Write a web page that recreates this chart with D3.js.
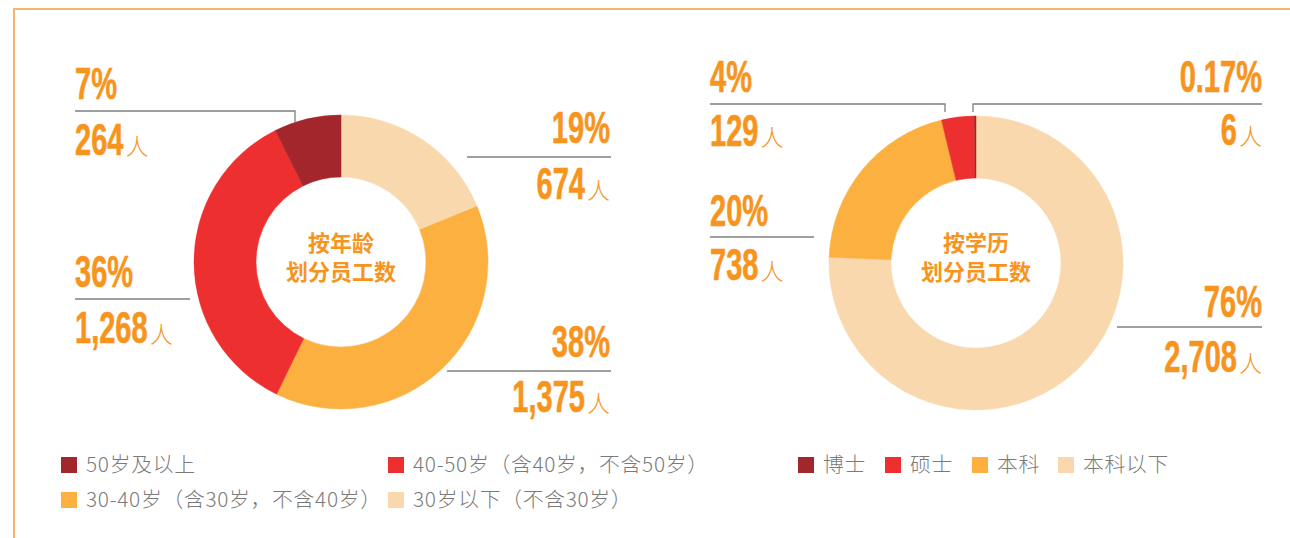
<!DOCTYPE html>
<html>
<head>
<meta charset="utf-8">
<script src="https://cdn.jsdelivr.net/npm/d3@7"></script>
<style>
  html, body { margin: 0; padding: 0; background: #fff; }
  svg { display: block; }
</style>
</head>
<body>
<svg id="chart" width="1290" height="538"></svg>
<script>
// ---- data ----
const ageCategories = ["50岁及以上", "40-50岁（含40岁，不含50岁）", "30-40岁（含30岁，不含40岁）", "30岁以下（不含30岁）"];
const ageValues = [264, 1268, 1375, 674];
const agePercents = ["7%", "36%", "38%", "19%"];
const eduCategories = ["博士", "硕士", "本科", "本科以下"];
const eduValues = [6, 129, 738, 2708];
const eduPercents = ["0.17%", "4%", "20%", "76%"];
const centerTitles = [["按年龄", "划分员工数"], ["按学历", "划分员工数"]];
const unit = "人";

// ---- styles / layout ----
const colors = ["#a2262b", "#ee2f2f", "#fbb040", "#f9d8ae"];
const orange = "#f7941d";
const lineColor = "#7f7f7f";
const numFont = "'Liberation Sans', Arial, sans-serif";
const cjkFont = "'Noto Sans CJK SC', 'Noto Sans', sans-serif";

const svg = d3.select("#chart");

// frame
svg.append("path")
  .attr("d", "M14,538 L14,9 L1290,9")
  .attr("fill", "none").attr("stroke", "#f8b46c").attr("stroke-width", 2);

const charts = [
  { cx: 341, cy: 262, values: ageValues, percents: agePercents, title: centerTitles[0],
    labels: [
      { side: "left",  x: 75,   pctY: 99,  numY: 155, line: [[75,111],[295,111],[295,122]] },
      { side: "left",  x: 75,   pctY: 287, numY: 343, line: [[75,299],[190,299]] },
      { side: "right", x: 610,  pctY: 357, numY: 412, line: [[447,371],[611,371]] },
      { side: "right", x: 610,  pctY: 143, numY: 199, line: [[467,157],[611,157]] }
    ] },
  { cx: 976, cy: 263, values: eduValues, percents: eduPercents, title: centerTitles[1],
    labels: [
      { side: "right", x: 1262, pctY: 92,  numY: 145, line: [[973,112],[973,104],[1262,104]] },
      { side: "left",  x: 710,  pctY: 92,  numY: 146, line: [[710,104],[945,104],[945,112]] },
      { side: "left",  x: 710,  pctY: 226, numY: 280, line: [[710,237],[814,237]] },
      { side: "right", x: 1262, pctY: 317, numY: 372, line: [[1117,327],[1262,327]] }
    ] }
];

const outerR = 147, innerR = 85;
const arc = d3.arc().innerRadius(innerR).outerRadius(outerR);
const pie = d3.pie().sort(null).value(d => d.v);
const fmt = d3.format(",");
const sx = 0.66;
const numSize = 44;

function bigLabel(g, side, x, y, text, withUnit) {
  const grp = g.append("g");
  const t = grp.append("text")
    .attr("font-family", numFont).attr("font-weight", "bold")
    .attr("font-size", numSize).attr("fill", orange)
    .attr("stroke", orange).attr("stroke-width", 0.6)
    .text(text);
  const w = t.node().getComputedTextLength() * sx;
  let unitW = 0, u = null;
  if (withUnit) {
    u = g.append("text")
      .attr("font-family", cjkFont).attr("font-weight", 300)
      .attr("font-size", 23).attr("fill", orange)
      .text(unit);
    unitW = u.node().getComputedTextLength();
  }
  const gap = 2;
  let startX = side === "left" ? x : x - w - (withUnit ? unitW + gap : 0);
  grp.attr("transform", `translate(${startX},${y}) scale(${sx},1)`);
  if (u) u.attr("x", startX + w + gap).attr("y", y);
}

charts.forEach(c => {
  const g = svg.append("g");
  const items = c.values.map((v, i) => ({ v, i })).reverse();
  const arcs = pie(items);
  g.append("g").attr("transform", `translate(${c.cx},${c.cy})`)
    .selectAll("path").data(arcs).join("path")
    .attr("d", arc)
    .attr("fill", d => colors[d.data.i])
    .attr("stroke", d => colors[d.data.i]).attr("stroke-width", 0.5);

  c.title.forEach((line, k) => {
    g.append("text")
      .attr("x", c.cx).attr("y", 251 + k * 29)
      .attr("text-anchor", "middle")
      .attr("font-family", cjkFont).attr("font-weight", "bold")
      .attr("font-size", 22).attr("fill", orange)
      .text(line);
  });

  c.labels.forEach((L, i) => {
    g.append("path")
      .attr("d", d3.line()(L.line))
      .attr("fill", "none").attr("stroke", lineColor).attr("stroke-width", 1.3);
    bigLabel(g, L.side, L.x, L.pctY, c.percents[i], false);
    bigLabel(g, L.side, L.x, L.numY, fmt(c.values[i]), true);
  });
});

// ---- legends ----
const legendItems = [
  { label: ageCategories[0], color: colors[0], x: 61,  y: 457 },
  { label: ageCategories[1], color: colors[1], x: 388, y: 457 },
  { label: ageCategories[2], color: colors[2], x: 61,  y: 492 },
  { label: ageCategories[3], color: colors[3], x: 388, y: 492 },
  { label: eduCategories[0], color: colors[0], x: 798,  y: 457 },
  { label: eduCategories[1], color: colors[1], x: 885,  y: 457 },
  { label: eduCategories[2], color: colors[2], x: 972,  y: 457 },
  { label: eduCategories[3], color: colors[3], x: 1058, y: 457 }
];
const lg = svg.append("g");
legendItems.forEach(d => {
  lg.append("rect").attr("x", d.x).attr("y", d.y).attr("width", 16).attr("height", 16).attr("fill", d.color);
  lg.append("text").attr("x", d.x + 25).attr("y", d.y + 15)
    .attr("font-family", cjkFont).attr("font-weight", 300)
    .attr("font-size", 20.8).attr("fill", "#7a7a7a")
    .attr("letter-spacing", 0.7)
    .text(d.label);
});
</script>
</body>
</html>
